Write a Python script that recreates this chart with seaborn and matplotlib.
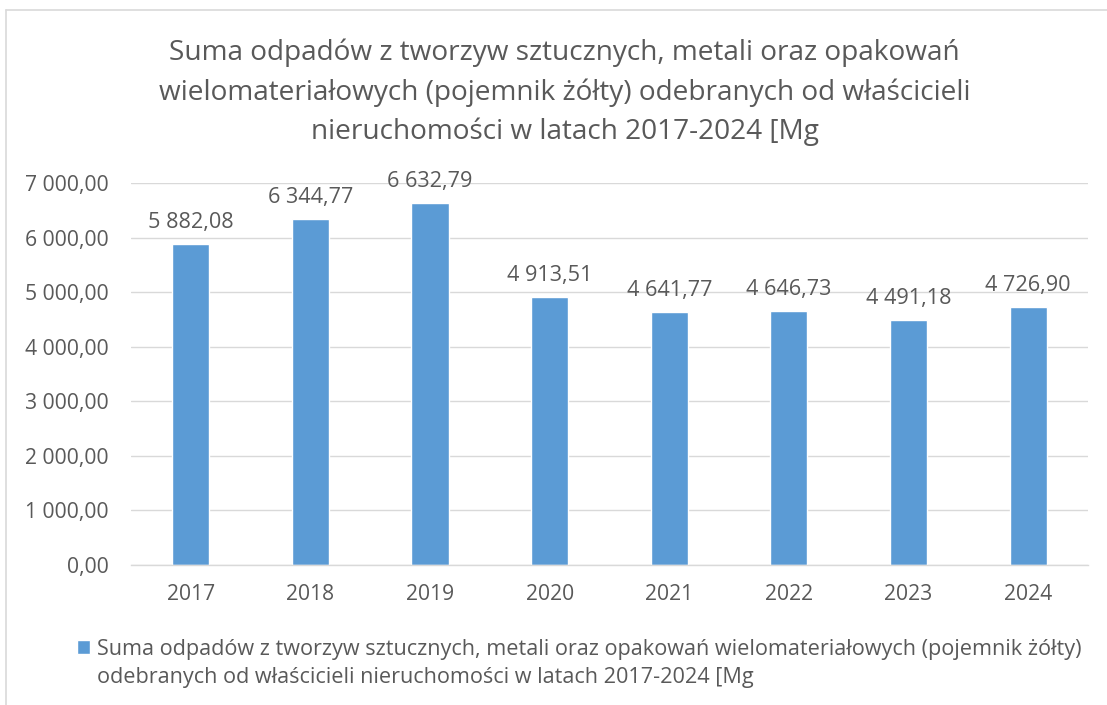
import matplotlib
matplotlib.use("Agg")
import matplotlib.pyplot as plt
import seaborn as sns
import pandas as pd
from matplotlib.lines import Line2D
from matplotlib.patches import Rectangle
from matplotlib.container import BarContainer
from matplotlib.legend_handler import HandlerPatch

years = ["2017", "2018", "2019", "2020", "2021", "2022", "2023", "2024"]
values = [5882.08, 6344.77, 6632.79, 4913.51, 4641.77, 4646.73, 4491.18, 4726.90]
y_ticks = [0, 1000, 2000, 3000, 4000, 5000, 6000, 7000]
title = ("Suma odpadów z tworzyw sztucznych, metali oraz opakowań\n"
         "wielomateriałowych (pojemnik żółty) odebranych od właścicieli\n"
         "nieruchomości w latach 2017-2024 [Mg")
series_name = ("Suma odpadów z tworzyw sztucznych, metali oraz opakowań wielomateriałowych (pojemnik żółty)\n"
               "odebranych od właścicieli nieruchomości w latach 2017-2024 [Mg")

BAR = "#5B9BD5"
TXT = "#595959"
GRID = "#D9D9D9"

sns.set_theme(style="white")
plt.rcParams["font.family"] = ["Open Sans", "DejaVu Sans"]


def pl(v):
    s = f"{v:,.2f}"
    return s.replace(",", " ").replace(".", ",")


df = pd.DataFrame({"rok": years, "wartosc": values})

fig = plt.figure(figsize=(11.07, 7.05), dpi=100)
ax = fig.add_axes([0.1183, 0.1986, 0.8645, 0.5418])
sns.barplot(data=df, x="rok", y="wartosc", color=BAR, width=0.31, ax=ax,
            saturation=1, label=series_name)
ax.set_ylim(0, 7000)
ax.set_xlim(-0.5, len(years) - 0.5)
ax.set_yticks(y_ticks)
ax.set_yticklabels([pl(t) for t in y_ticks])
ax.set_xlabel("")
ax.set_ylabel("")
ax.grid(axis="y", color=GRID, linewidth=1.0)
ax.set_axisbelow(True)
for s in ["top", "right", "left"]:
    ax.spines[s].set_visible(False)
ax.spines["bottom"].set_color(GRID)
ax.spines["bottom"].set_linewidth(1.0)
ax.tick_params(axis="both", length=0, labelsize=15.2, labelcolor=TXT)
ax.tick_params(axis="y", pad=16)
ax.tick_params(axis="x", pad=14)

ax.bar_label(ax.containers[0], labels=[pl(v) for v in values], padding=8,
             fontsize=15.6, color=TXT)

fig.text(0.510, 0.869, title, ha="center", va="center", fontsize=20.2,
         color=TXT, linespacing=1.5)


def top_square(legend, orig_handle, xdescent, ydescent, width, height, fontsize):
    return Rectangle((-xdescent, -ydescent + 0.78 * fontsize), width, height)


def update_first(legend_handle, orig_handle):
    first = orig_handle[0] if isinstance(orig_handle, BarContainer) else orig_handle
    legend_handle.update_from(first)


sq = HandlerPatch(patch_func=top_square, update_func=update_first)
leg = ax.legend(loc="upper left", bbox_to_anchor=(0.0696, 0.094), bbox_transform=fig.transFigure,
                frameon=False, fontsize=15.6, labelcolor=TXT, handlelength=0.6,
                handleheight=0.6, handletextpad=0.32, borderaxespad=0, borderpad=0,
                handler_map={BarContainer: sq, Rectangle: sq})
for t in leg.get_texts():
    t.set_linespacing(1.45)

# chart frame
fig.add_artist(Line2D([6 / 1107, 1.0], [1 - 10 / 705, 1 - 10 / 705], color=GRID, lw=1.2,
                      transform=fig.transFigure))
fig.add_artist(Line2D([6 / 1107, 6 / 1107], [0, 1 - 10 / 705], color=GRID, lw=1.2,
                      transform=fig.transFigure))

fig.savefig("out.png", dpi=100)
